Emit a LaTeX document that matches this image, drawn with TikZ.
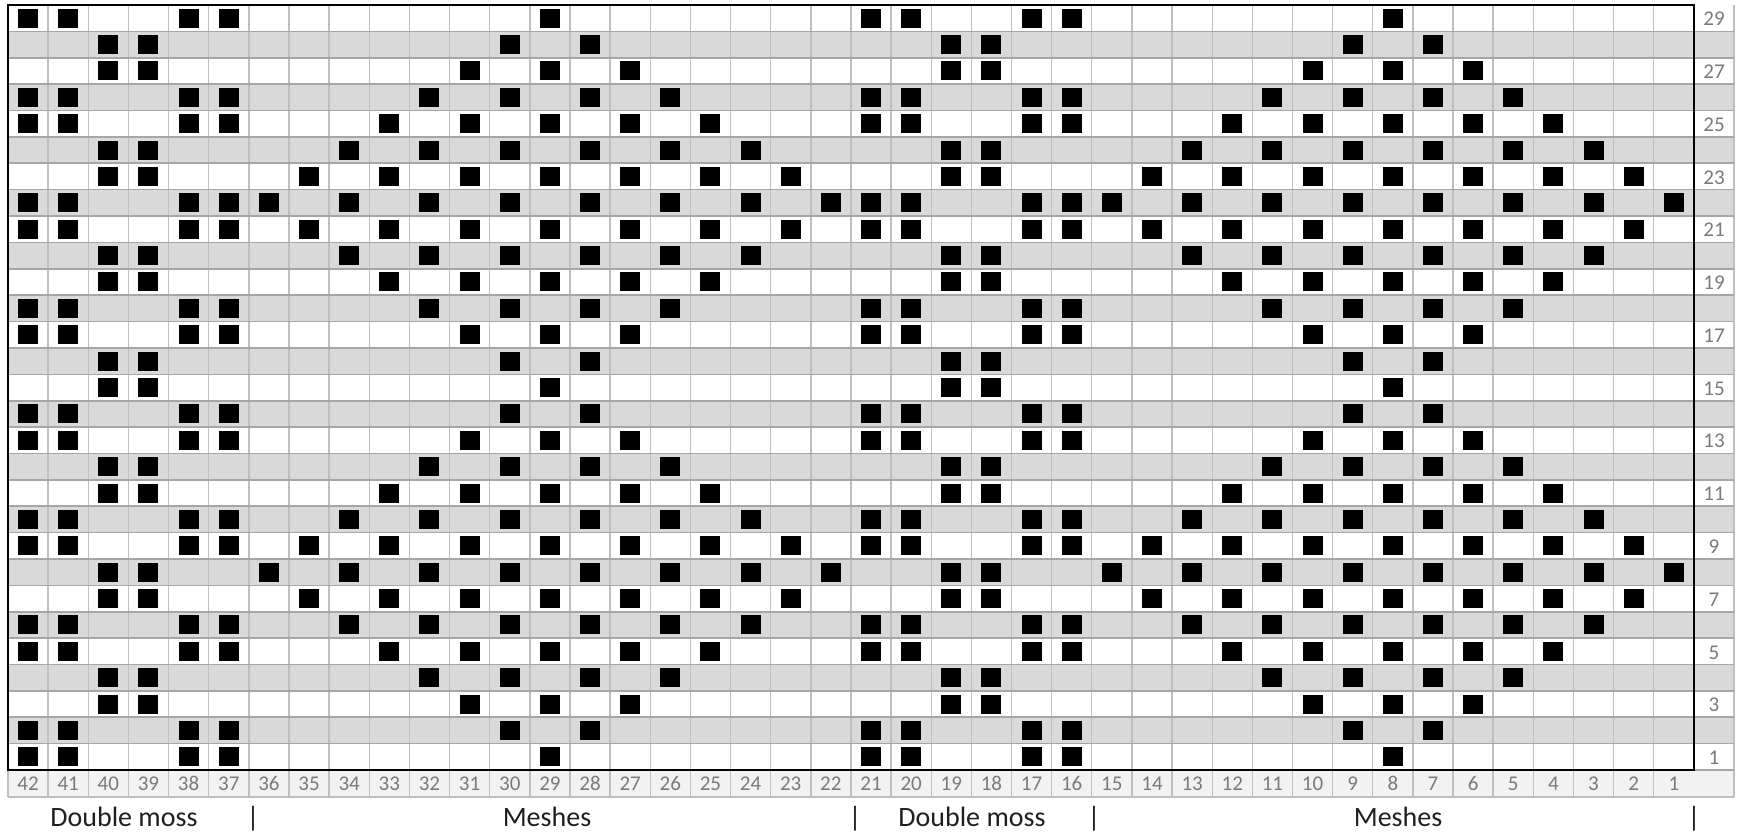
\documentclass[tikz,border=0pt]{standalone}
\usepackage{fontspec}
\setmainfont{Carlito}
\definecolor{rowgray}{HTML}{D9D9D9}
\definecolor{numfill}{HTML}{F2F2F2}
\definecolor{vline}{HTML}{BFBFBF}
\definecolor{hline}{HTML}{A6A6A6}
\definecolor{numtext}{HTML}{7A7A7A}
\begin{document}
\begin{tikzpicture}[x=1pt,y=-1pt,
  stitch/.style={fill=black},
  colnum/.style={anchor=base,text=numtext,font=\fontsize{21}{21}\selectfont,inner sep=0pt},
  rownum/.style={anchor=base,text=numtext,font=\fontsize{21}{21}\selectfont,inner sep=0pt},
  seclabel/.style={anchor=base,text=black!88,font=\fontsize{28}{28}\selectfont,inner sep=0pt},
  vgrid/.style={draw=vline,line width=1.4pt},
  hgrid/.style={draw=hline,line width=1.6pt}]
\useasboundingbox (0,0) rectangle (1737,832);
\def\cw{40.14}
\def\rh{26.38}
% row shading
\foreach \r in {2,4,...,28} {
  \fill[rowgray] (8,{5+(29-\r)*\rh}) rectangle (1734,{5+(30-\r)*\rh});
}
% number row
\fill[numfill] (8,770) rectangle (1734,797);
% vertical lines
\foreach \i in {1,...,41} {
  \draw[vgrid] ({8+\i*\cw},5) -- ({8+\i*\cw},797);
}
\draw[vgrid] (1734,5) -- (1734,797);
\draw[vgrid] (8,770) -- (8,797);
% horizontal lines
\foreach \j in {1,...,28} {
  \draw[hgrid] (8,{5+\j*\rh}) -- (1734,{5+\j*\rh});
}
\draw[hgrid] (1694,770) -- (1734,770);
\draw[vgrid] (8,797) -- (1734,797);
% outer border
\draw[black,line width=2.2pt] (8,5) rectangle (1694,770);
% stitches
\newcommand{\stsq}[2]{\fill[stitch] ({8+(42-#1+0.5)*\cw-10},{5+(29-#2+0.5)*\rh-9.5}) rectangle ++(20,19);}
\foreach \r in {1,...,29} {
  \pgfmathtruncatemacro\k{7-abs(mod(\r-1,14)-7)}
  \pgfmathtruncatemacro\m{mod(\r,4)}
  \ifnum\m=1 \def\moss{1}\else\ifnum\m=2 \def\moss{1}\else\def\moss{0}\fi\fi
  \ifnum\moss=1
    \foreach \c in {42,41,38,37,21,20,17,16} {\stsq{\c}{\r}}
  \else
    \foreach \c in {40,39,19,18} {\stsq{\c}{\r}}
  \fi
  \foreach \j in {0,...,\k} {
    \pgfmathtruncatemacro\ca{29+2*\j-\k}
    \pgfmathtruncatemacro\cb{8+2*\j-\k}
    \stsq{\ca}{\r}
    \stsq{\cb}{\r}
  }
}
% column numbers
\foreach \c in {1,...,42} {
  \node[colnum] (cn\c) at ({8+(42-\c+0.5)*\cw},790) {\c};
}
% row numbers
\foreach \r in {1,3,...,29} {
  \node[rownum] (rn\r) at (1714,{5+(30-\r)*\rh-5.5}) {\r};
}
% section labels
\node[seclabel] (dm1) at (124,826) {Double moss};
\node[seclabel] (ms1) at (547,826) {Meshes};
\node[seclabel] (dm2) at (972,826) {Double moss};
\node[seclabel] (ms2) at (1398,826) {Meshes};
\node[seclabel] (b1) at (253,826) {|};
\node[seclabel] (b2) at (855,826) {|};
\node[seclabel] (b3) at (1094,826) {|};
\node[seclabel] (b4) at (1694,826) {|};
\end{tikzpicture}
\end{document}
